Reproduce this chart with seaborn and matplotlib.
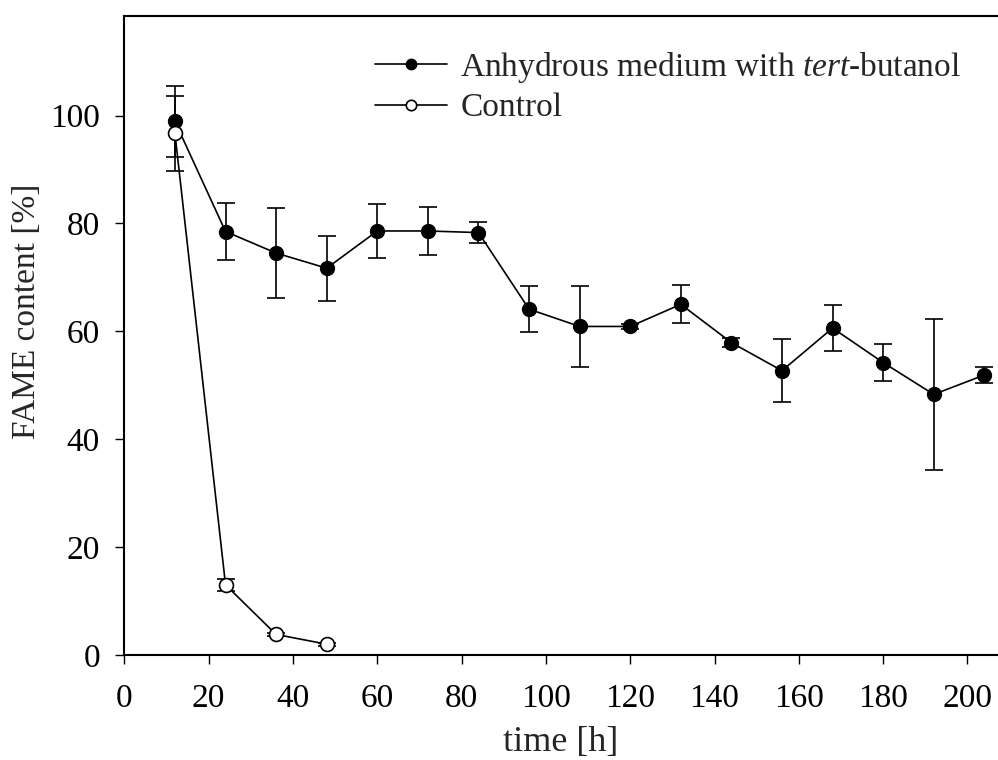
import numpy as np
import pandas as pd
import matplotlib
matplotlib.use("Agg")
import matplotlib.pyplot as plt
import seaborn as sns

# ---- data ----
time_anh = [12, 24, 36, 48, 60, 72, 84, 96, 108, 120, 132, 144, 156, 168, 180, 192, 204]
fame_anh = [98.9, 78.5, 74.5, 71.7, 78.6, 78.6, 78.3, 64.1, 60.9, 60.9, 65.0, 57.9, 52.7, 60.6, 54.2, 48.3, 51.9]
err_anh = [6.5, 5.2, 8.3, 6.0, 5.0, 4.4, 2.0, 4.3, 7.5, 0.5, 3.5, 0.8, 5.8, 4.3, 3.4, 14.0, 1.5]

time_ctrl = [12, 24, 36, 48]
fame_ctrl = [96.7, 13.0, 3.8, 2.0]
err_ctrl = [7.0, 1.1, 0.3, 0.3]

label_anh = "Anhydrous medium with $\\it{tert}$-butanol"
label_ctrl = "Control"
xticks = [0, 20, 40, 60, 80, 100, 120, 140, 160, 180, 200]
yticks = [0, 20, 40, 60, 80, 100]

sns.set_theme(style="ticks")
plt.rcParams['font.family'] = ['Liberation Serif', 'DejaVu Serif']
plt.rcParams['mathtext.fontset'] = 'custom'
plt.rcParams['mathtext.it'] = 'Liberation Serif:italic'
plt.rcParams['mathtext.rm'] = 'Liberation Serif'

fig = plt.figure(figsize=(9.98, 7.6), dpi=100)
ax = fig.add_axes([0.1246, 0.1382, 0.8744, 0.8411])

df_a = pd.DataFrame({"t": time_anh, "v": fame_anh})
df_c = pd.DataFrame({"t": time_ctrl, "v": fame_ctrl})

ax.errorbar(time_anh, fame_anh, yerr=err_anh, fmt='none', ecolor='black',
            elinewidth=1.2, capsize=6.5, capthick=1.2, zorder=2)
ax.errorbar(time_ctrl, fame_ctrl, yerr=err_ctrl, fmt='none', ecolor='black',
            elinewidth=1.2, capsize=6.5, capthick=1.2, zorder=2)

sns.lineplot(data=df_a, x="t", y="v", ax=ax, color='black', linewidth=1.2,
             marker='o', markersize=10, markerfacecolor='black',
             markeredgecolor='black', markeredgewidth=1.0, label=label_anh, zorder=3)
sns.lineplot(data=df_c, x="t", y="v", ax=ax, color='black', linewidth=1.2,
             marker='o', markersize=10, markerfacecolor='white',
             markeredgecolor='black', markeredgewidth=1.2, label=label_ctrl, zorder=4)

ax.set_xlim(0, 207)
ax.set_ylim(0, 118.5)
ax.set_xticks(xticks)
ax.set_yticks(yticks)
ax.tick_params(axis='both', direction='out', length=6.5, width=1.0,
               labelsize=24, colors='black')
ax.tick_params(axis='x', pad=14)
ax.tick_params(axis='y', pad=11)
for s in ['top', 'left', 'bottom']:
    ax.spines[s].set_linewidth(1.5)
    ax.spines[s].set_color('black')
ax.spines['right'].set_visible(False)

ax.set_xlabel("time [h]", fontsize=26, labelpad=9)
ax.set_ylabel("FAME content [%]", fontsize=24)
ax.yaxis.set_label_coords(-0.094, 0.537)

leg = ax.legend(loc='upper left', bbox_to_anchor=(0.272, 0.968), frameon=False,
                fontsize=24, handlelength=2.16, handletextpad=0.4,
                labelspacing=0.25, borderaxespad=0, markerscale=0.75)

fig.savefig("out.png", dpi=100)
